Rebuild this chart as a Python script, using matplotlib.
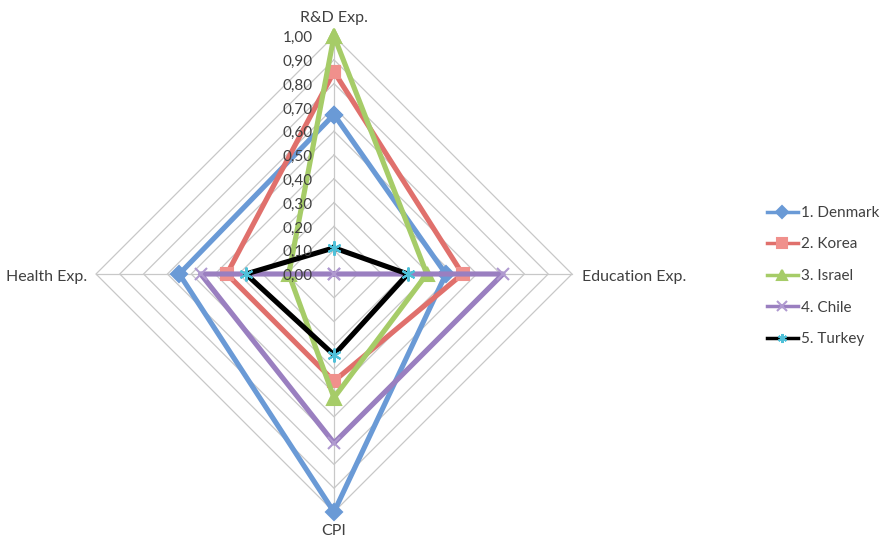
import numpy as np
import matplotlib
matplotlib.use("Agg")
import matplotlib.pyplot as plt

plt.rcParams["font.family"] = ["Lato", "DejaVu Sans"]

axis_labels = ["R&D Exp.", "Education Exp.", "CPI", "Health Exp."]
countries = ["1. Denmark", "2. Korea", "3. Israel", "4. Chile", "5. Turkey"]
denmark = [0.67, 0.47, 1.00, 0.65]
korea = [0.85, 0.54, 0.45, 0.45]
israel = [1.00, 0.39, 0.52, 0.19]
chile = [0.00, 0.71, 0.71, 0.56]
turkey = [0.11, 0.31, 0.34, 0.37]
levels = [0.0, 0.1, 0.2, 0.3, 0.4, 0.5, 0.6, 0.7, 0.8, 0.9, 1.0]
level_labels = ["0,00", "0,10", "0,20", "0,30", "0,40", "0,50",
                "0,60", "0,70", "0,80", "0,90", "1,00"]

series = [denmark, korea, israel, chile, turkey]
colors = ["#6a9ad6", "#e0706c", "#a6cc68", "#9a7fc0", "#000000"]
markers = ["D", "s", "^", "x", (6, 2, 0)]
mfcs = ["#6a9ad6", "#f0908c", "#a6cc68", "#b09ad0", "#4fc0d8"]
mecs = ["#6a9ad6", "#f0908c", "#a6cc68", "#b09ad0", "#4fc0d8"]
msizes = [8, 8, 10, 9, 10]

W, H = 889, 540
cx, cy, R = 334, 266, 238

fig = plt.figure(figsize=(W / 100, H / 100), dpi=100)
ax = fig.add_axes([(cx - R) / W, (cy - R) / H, 2 * R / W, 2 * R / H],
                  projection="polar")
ax.set_theta_offset(np.pi / 2)
ax.set_theta_direction(-1)
ax.set_ylim(0, 1)
ax.set_axis_off()

n = len(axis_labels)
angles = [2 * np.pi * i / n for i in range(n)]
closed = angles + [angles[0]]

# grid diamonds and spokes
for lev in levels[1:]:
    ax.plot(closed, [lev] * (n + 1), color="#c8c8c8", lw=0.9, zorder=1,
            clip_on=False)
for a in angles:
    ax.plot([a, a], [0, 1], color="#c8c8c8", lw=0.9, zorder=1, clip_on=False)

handles = []
for vals, name, c, m, mfc, mec, ms in zip(series, countries, colors, markers,
                                           mfcs, mecs, msizes):
    ln, = ax.plot(closed, list(vals) + [vals[0]], color=c, lw=3.7,
                  marker=m, markersize=ms, markerfacecolor=mfc,
                  markeredgecolor=mec, markeredgewidth=1.5,
                  clip_on=False, zorder=3, label=name)
    handles.append(ln)

# level labels along the vertical axis
for lev, lbl in zip(levels, level_labels):
    ax.annotate(lbl, xy=(0, lev), xytext=(-21, -2), textcoords="offset pixels",
                ha="right", va="center", fontsize=11, color="#404040",
                zorder=10, annotation_clip=False)

# axis labels
offsets = [((0, 11), "center", "bottom"), ((10, -3), "left", "center"),
           ((0, -12), "center", "top"), ((-9, -3), "right", "center")]
for a, lbl, (off, ha, va) in zip(angles, axis_labels, offsets):
    ax.annotate(lbl, xy=(a, 1.0), xytext=off, textcoords="offset pixels",
                ha=ha, va=va, fontsize=11.5, color="#404040",
                annotation_clip=False)

leg = fig.legend(handles=handles, loc="center left",
                 bbox_to_anchor=(767 / W, (H - 276) / H), frameon=False,
                 fontsize=11, labelspacing=1.15, handlelength=2.0,
                 handletextpad=0.2, borderpad=0, borderaxespad=0)
for t in leg.get_texts():
    t.set_color("#404040")
for lh in leg.legend_handles:
    lh.set_linewidth(2.5)
    lh.set_markersize(6.5)

fig.savefig("out.png", dpi=100)
